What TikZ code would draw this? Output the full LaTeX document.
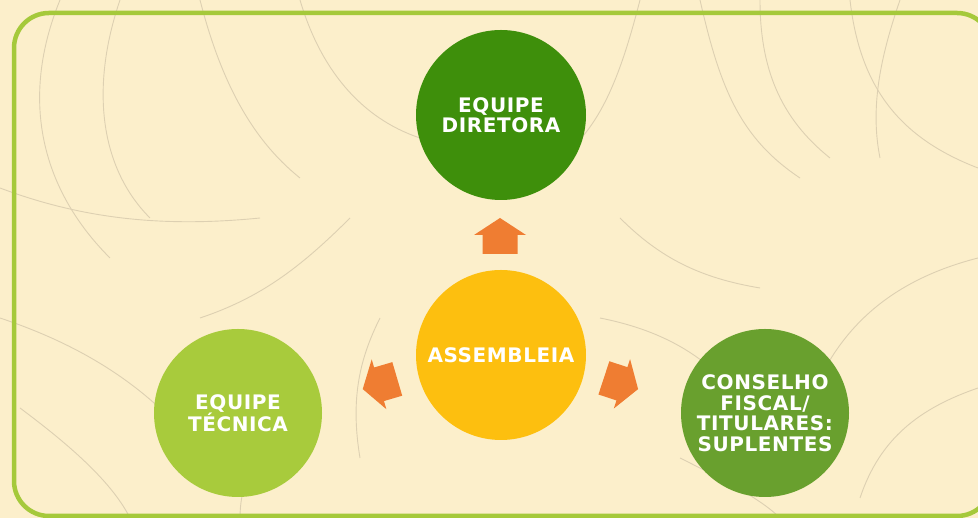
\documentclass[tikz,border=0pt]{standalone}
\usepackage{fontspec}
\setmainfont{DejaVu Sans}
\newfontfamily\labfont{DejaVu Sans}[LetterSpace=3]
\usetikzlibrary{calc}
\definecolor{bgc}{HTML}{FCEFCB}
\definecolor{leafc}{HTML}{DDD0B2}
\definecolor{framec}{HTML}{A5C93B}
\definecolor{dirc}{HTML}{3E8F0B}
\definecolor{asmc}{HTML}{FDBF0F}
\definecolor{tecc}{HTML}{A8CB3C}
\definecolor{conc}{HTML}{69A02E}
\definecolor{arrc}{HTML}{EF7D32}
\tikzset{
  bubble/.style={circle, minimum size=170pt, inner sep=0pt, text=white, align=center,
    font=\labfont\fontsize{20}{20.5}\selectfont\bfseries},
  leaf/.style={draw=leafc, line width=0.9pt},
  blockarrow/.pic={\fill[arrc] (0,18) -- (26,1) -- (17.5,1) -- (17.5,-18) -- (-17.5,-18) -- (-17.5,1) -- (-26,1) -- cycle;}
}
\begin{document}
\begin{tikzpicture}[x=1pt,y=1pt]
\useasboundingbox (0,0) rectangle (978,518);
\begin{scope}
\clip (0,0) rectangle (978,518);
\fill[bgc] (0,0) rectangle (978,518);
% faint leaf texture
\draw[leaf] (60,518) .. controls (20,420) and (40,330) .. (110,260);
\draw[leaf] (120,518) .. controls (90,430) and (100,350) .. (150,300);
\draw[leaf] (200,518) .. controls (220,440) and (250,380) .. (300,340);
\draw[leaf] (0,330) .. controls (80,300) and (160,290) .. (260,300);
\draw[leaf] (0,200) .. controls (60,180) and (120,150) .. (170,100);
\draw[leaf] (300,518) .. controls (320,450) and (360,400) .. (420,380);
\draw[leaf] (350,300) .. controls (300,250) and (260,220) .. (200,200);
\draw[leaf] (640,518) .. controls (620,440) and (600,390) .. (560,360);
\draw[leaf] (700,518) .. controls (720,430) and (740,380) .. (800,340);
\draw[leaf] (760,518) .. controls (760,450) and (780,400) .. (830,360);
\draw[leaf] (850,518) .. controls (860,430) and (900,380) .. (978,350);
\draw[leaf] (978,260) .. controls (900,240) and (850,200) .. (820,140);
\draw[leaf] (900,518) .. controls (880,460) and (870,410) .. (880,360);
\draw[leaf] (620,300) .. controls (660,260) and (700,240) .. (760,230);
\draw[leaf] (600,200) .. controls (650,190) and (700,170) .. (740,120);
\draw[leaf] (978,130) .. controls (920,110) and (880,80) .. (860,20);
\draw[leaf] (20,110) .. controls (60,80) and (110,40) .. (130,0);
\draw[leaf] (300,120) .. controls (260,80) and (240,40) .. (240,0);
\draw[leaf] (680,60) .. controls (720,40) and (760,20) .. (780,0);
\draw[leaf] (380,200) .. controls (360,160) and (350,120) .. (360,60);
\end{scope}
\draw[framec, line width=4.5pt, rounded corners=35pt] (14,2) rectangle (992,505);

\node[bubble, fill=dirc] (dir) at (501,403) {EQUIPE\\DIRETORA};
\node[bubble, fill=asmc] (asm) at (501,163) {ASSEMBLEIA};
\node[bubble, fill=tecc, minimum size=168pt] (tec) at (238,105) {EQUIPE\\TÉCNICA};
\node[bubble, fill=conc, minimum size=168pt] (con) at (765,105) {CONSELHO\\FISCAL/\\TITULARES:\\SUPLENTES};

\pic at (500,282) {blockarrow};
\pic[rotate=106.4] at (380,134) {blockarrow};
\pic[rotate=-108.2] at (621,134.5) {blockarrow};
\end{tikzpicture}
\end{document}
